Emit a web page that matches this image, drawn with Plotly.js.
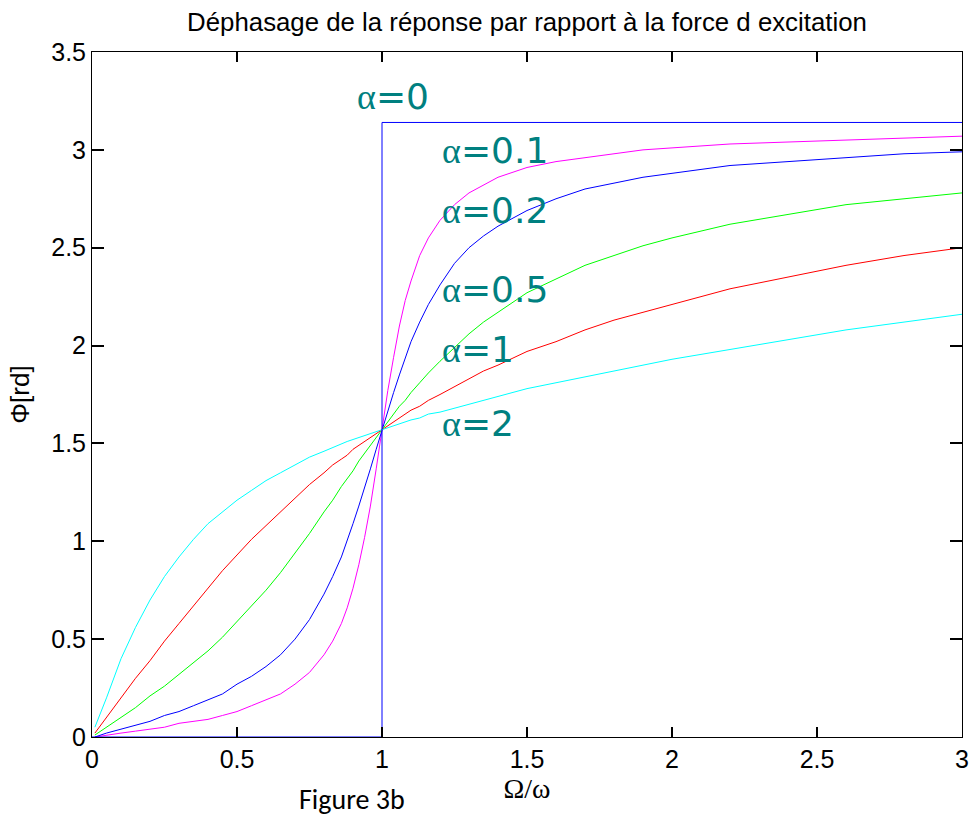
<!DOCTYPE html>
<html>
<head>
<meta charset="utf-8">
<script src="https://cdn.plot.ly/plotly-3.0.1.min.js"></script>
<style>html,body{margin:0;padding:0;background:#fff;}#chart{width:973px;height:818px;}</style>
</head>
<body>
<div id="chart"></div>
<script>
// Frequency ratio Omega/omega (sample points)
const ratio = [0.01,0.05,0.1,0.15,0.2,0.25,0.3,0.35,0.4,0.45, 0.5,0.55,0.6,0.65,0.7,0.75, 0.8,0.83,0.86,0.88,0.9, 0.92,0.94,0.96,0.98,1, 1.02,1.04,1.06,1.08,1.1, 1.13,1.16,1.2,1.25,1.3, 1.35,1.4,1.5,1.6,1.7, 1.8,1.9,2,2.2,2.4, 2.6,2.8,3];
// Phase Phi [rd] for each damping value alpha
const phiAlpha01 = [0.00,0.01,0.02,0.03,0.04,0.05,0.07,0.08,0.09,0.11, 0.13,0.16,0.19,0.22,0.27,0.33, 0.42,0.49,0.58,0.66,0.76, 0.88,1.02,1.18,1.37,1.57, 1.77,1.94,2.10,2.23,2.33, 2.46,2.55,2.64,2.72,2.78, 2.82,2.86,2.91,2.94,2.96, 2.98,3.00,3.01,3.03,3.04, 3.05,3.06,3.07];
const phiAlpha02 = [0.00,0.02,0.04,0.06,0.08,0.11,0.13,0.16,0.19,0.22, 0.27,0.31,0.36,0.42,0.50,0.60, 0.73,0.82,0.92,1.00,1.09, 1.18,1.27,1.37,1.47,1.57, 1.67,1.76,1.85,1.94,2.02, 2.12,2.21,2.31,2.42,2.50, 2.56,2.61,2.69,2.75,2.80, 2.83,2.86,2.88,2.92,2.94, 2.96,2.98,2.99];
const phiAlpha05 = [0.01,0.05,0.10,0.15,0.21,0.26,0.32,0.38,0.44,0.51, 0.59,0.67,0.75,0.84,0.94,1.04, 1.15,1.21,1.28,1.32,1.36, 1.41,1.45,1.49,1.53,1.57, 1.61,1.65,1.69,1.72,1.76, 1.81,1.86,1.92,1.99,2.06, 2.12,2.17,2.27,2.34,2.41, 2.46,2.51,2.55,2.62,2.67, 2.72,2.75,2.78];
const phiAlpha1  = [0.02,0.10,0.20,0.30,0.39,0.49,0.58,0.67,0.76,0.85, 0.93,1.01,1.08,1.15,1.22,1.29, 1.35,1.39,1.42,1.44,1.47, 1.49,1.51,1.53,1.55,1.57, 1.59,1.61,1.63,1.65,1.67, 1.69,1.72,1.75,1.79,1.83, 1.87,1.90,1.97,2.02,2.08, 2.13,2.17,2.21,2.29,2.35, 2.41,2.46,2.50];
const phiAlpha2  = [0.05,0.20,0.40,0.56,0.70,0.82,0.92,1.01,1.09,1.15, 1.21,1.26,1.31,1.35,1.39,1.43, 1.46,1.48,1.50,1.51,1.52, 1.53,1.54,1.55,1.56,1.57, 1.58,1.59,1.60,1.61,1.62, 1.63,1.65,1.66,1.68,1.70, 1.72,1.74,1.78,1.81,1.84, 1.87,1.90,1.93,1.98,2.03, 2.08,2.12,2.16];
// alpha = 0 : step curve
const ratioAlpha0 = [0,1,1,3];
const phiAlpha0   = [0,0,3.14,3.14];

const labels = ['α=0','α=0.1','α=0.2','α=0.5','α=1','α=2'];
const xTicks = [0,0.5,1,1.5,2,2.5,3];
const yTicks = [0,0.5,1,1.5,2,2.5,3,3.5];

function line(x, y, color, name){
  return {x:x, y:y, type:'scatter', mode:'lines', name:name,
          line:{color:color, width:1}};
}
const data = [
  line(ratio, phiAlpha01, '#ff00ff', labels[1]),
  line(ratio, phiAlpha02, '#0000ff', labels[2]),
  line(ratio, phiAlpha05, '#00ff00', labels[3]),
  line(ratio, phiAlpha1,  '#ff0000', labels[4]),
  line(ratio, phiAlpha2,  '#00ffff', labels[5]),
  line(ratioAlpha0, phiAlpha0, '#0000ff', labels[0])
];

const teal = '#008080';
function lab(i, x, y){
  const t = labels[i].replace('α', '<span style="font-family:\'Liberation Serif\',\'Times New Roman\',serif">α</span>');
  return {text:t, x:x, y:y, xref:'x', yref:'y', xanchor:'left', yanchor:'middle',
          showarrow:false, font:{family:'DejaVu Sans, sans-serif', size:36, color:teal}};
}
const annotations = [
  lab(0, 0.907, 3.275),
  lab(1, 1.20, 2.995),
  lab(2, 1.20, 2.689),
  lab(3, 1.20, 2.289),
  lab(4, 1.20, 1.982),
  lab(5, 1.20, 1.600),
  {text:'Figure 3b', xref:'paper', yref:'paper', x:(352-92)/870, y:-(800-737)/685,
   xanchor:'center', yanchor:'middle', showarrow:false,
   font:{family:'Carlito, Lato, Open Sans, sans-serif', size:28, color:'#000'}}
];

const layout = {
  width:973, height:818,
  margin:{l:92, r:11, t:52, b:81},
  showlegend:false,
  title:{text:'Déphasage de la réponse par rapport à la force d excitation',
         font:{family:'Liberation Sans, Arial, sans-serif', size:25.8, color:'#000'},
         x:0.5, xref:'paper', y:1-22/818, yref:'container', yanchor:'middle'},
  xaxis:{
    range:[0,3], tickmode:'array', tickvals:xTicks, ticks:'inside', ticklen:10, tickcolor:'#000', tickwidth:1.5,
    showline:true, linecolor:'#000', linewidth:1, mirror:'ticks', showgrid:false, zeroline:false,
    tickfont:{family:'Liberation Sans, Arial, sans-serif', size:25, color:'#000'},
    title:{text:'Ω/ω', font:{family:'Liberation Serif, Times New Roman, serif', size:28, color:'#000'}, standoff:2}
  },
  yaxis:{
    range:[0,3.5], tickmode:'array', tickvals:yTicks, ticks:'inside', ticklen:12, tickcolor:'#000', tickwidth:1.5,
    showline:true, linecolor:'#000', linewidth:1, mirror:'ticks', showgrid:false, zeroline:false,
    tickfont:{family:'Liberation Sans, Arial, sans-serif', size:25, color:'#000'},
    title:{text:'Φ[rd]', font:{family:'Liberation Sans, Arial, sans-serif', size:26, color:'#000'}, standoff:14}
  },
  annotations:annotations
};

Plotly.newPlot('chart', data, layout, {displayModeBar:false});
</script>
</body>
</html>
